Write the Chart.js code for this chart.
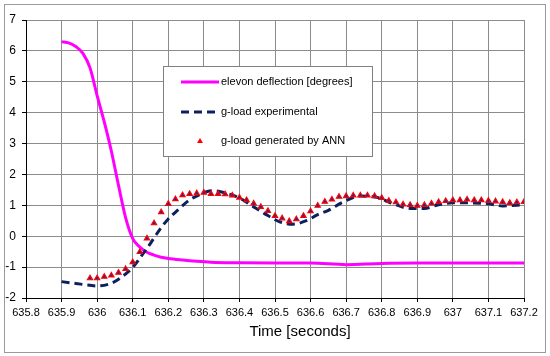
<!DOCTYPE html>
<html>
<head>
<meta charset="utf-8">
<script src="https://cdn.jsdelivr.net/npm/chart.js@4/dist/chart.umd.min.js"></script>
<style>
  html, body { margin: 0; padding: 0; background: #fff; }
  #wrap { width: 550px; height: 356px; }
</style>
</head>
<body>
<div id="wrap"><canvas id="myChart" width="550" height="356"></canvas></div>
<script>
// elevon deflection [degrees]
var elevonT = [635.90, 635.92, 635.94, 635.96, 635.98, 636.00, 636.02, 636.04, 636.06, 636.08,
  636.10, 636.12, 636.14, 636.16, 636.18, 636.20, 636.24, 636.28, 636.32, 636.40,
  636.50, 636.60, 636.70, 636.80, 636.90, 637.00, 637.20];
var elevonV = [6.30, 6.26, 6.14, 5.92, 5.45, 4.55, 3.70, 2.75, 1.65, 0.60,
  -0.08, -0.35, -0.52, -0.61, -0.68, -0.72, -0.77, -0.81, -0.84, -0.86,
  -0.87, -0.87, -0.92, -0.88, -0.87, -0.87, -0.87];

// g-load experimental
var expT = [635.90, 635.94, 635.98, 636.00, 636.04, 636.07, 636.10, 636.13, 636.15, 636.17,
  636.20, 636.23, 636.26, 636.28, 636.31, 636.33, 636.36, 636.40, 636.44, 636.48,
  636.51, 636.55, 636.59, 636.62, 636.65, 636.69, 636.74, 636.79, 636.83, 636.88,
  636.92, 636.96, 637.00, 637.05, 637.10, 637.14, 637.20];
var expV = [-1.47, -1.53, -1.59, -1.61, -1.52, -1.31, -1.01, -0.55, -0.23, 0.12,
  0.56, 0.88, 1.18, 1.30, 1.45, 1.47, 1.40, 1.24, 0.95, 0.67,
  0.48, 0.39, 0.51, 0.70, 0.84, 1.10, 1.30, 1.25, 1.06, 0.90,
  0.90, 1.02, 1.08, 1.08, 1.05, 0.98, 1.02];

// g-load generated by ANN
var annT = [635.98, 636.00, 636.02, 636.04, 636.06, 636.08, 636.10, 636.12, 636.14, 636.16,
  636.18, 636.20, 636.22, 636.24, 636.26, 636.28, 636.30, 636.32, 636.34, 636.36,
  636.38, 636.40, 636.42, 636.44, 636.46, 636.48, 636.50, 636.52, 636.54, 636.56,
  636.58, 636.60, 636.62, 636.64, 636.66, 636.68, 636.70, 636.72, 636.74, 636.76,
  636.78, 636.80, 636.82, 636.84, 636.86, 636.88, 636.90, 636.92, 636.94, 636.96,
  636.98, 637.00, 637.02, 637.04, 637.06, 637.08, 637.10, 637.12, 637.14, 637.16,
  637.18, 637.20];
var annV = [-1.36, -1.36, -1.31, -1.27, -1.18, -1.06, -0.84, -0.51, -0.07, 0.42,
  0.78, 1.05, 1.20, 1.33, 1.37, 1.39, 1.41, 1.37, 1.37, 1.36,
  1.32, 1.25, 1.17, 1.06, 0.95, 0.82, 0.66, 0.58, 0.49, 0.55,
  0.66, 0.81, 0.99, 1.12, 1.19, 1.28, 1.30, 1.32, 1.32, 1.32,
  1.30, 1.24, 1.15, 1.10, 1.03, 1.01, 0.99, 1.01, 1.06, 1.11,
  1.14, 1.17, 1.17, 1.19, 1.17, 1.17, 1.15, 1.13, 1.11, 1.08,
  1.10, 1.11];

var xTicks = [635.8, 635.9, 636, 636.1, 636.2, 636.3, 636.4, 636.5, 636.6, 636.7, 636.8, 636.9, 637, 637.1, 637.2];
var yTicks = [-2, -1, 0, 1, 2, 3, 4, 5, 6, 7];
var xTitle = 'Time [seconds]';

function pts(t, v) {
  return t.map(function(x, i){ return {x: x, y: v[i]}; });
}

var FONT = '"Liberation Sans", Arial, sans-serif';

// 枠・凡例・軸タイトルを描く
var decor = {
  id: 'decor',
  beforeDraw: function(chart) {
    var c = chart.ctx;
    c.save();
    c.fillStyle = '#fff';
    c.fillRect(0, 0, chart.width, chart.height);
    c.strokeStyle = '#9a9a9a';
    c.lineWidth = 1;
    c.strokeRect(4.5, 4.5, 541, 348);
    c.restore();
  },
  afterDraw: function(chart) {
    var c = chart.ctx;
    var ds = chart.data.datasets;
    c.save();
    // legend box
    c.fillStyle = '#fff';
    c.fillRect(163, 66, 209, 90);
    c.strokeStyle = '#808080';
    c.lineWidth = 1;
    c.strokeRect(163.5, 66.5, 209, 90);
    c.font = '11px ' + FONT;
    c.textBaseline = 'middle';
    c.fillStyle = '#000';
    var rows = [82, 112, 141];
    for (var i = 0; i < ds.length; i++) {
      var y = rows[i];
      if (ds[i].showLine) {
        c.strokeStyle = ds[i].borderColor;
        c.lineWidth = ds[i].borderWidth;
        c.setLineDash(ds[i].borderDash || []);
        c.beginPath();
        c.moveTo(181, y);
        c.lineTo(219, y);
        c.stroke();
        c.setLineDash([]);
      } else {
        c.fillStyle = ds[i].pointBorderColor;
        c.beginPath();
        c.moveTo(200, y - 3);
        c.lineTo(203, y + 2);
        c.lineTo(197, y + 2);
        c.closePath();
        c.fill();
      }
      c.fillStyle = '#000';
      c.fillText(ds[i].label, 221, y);
    }
    // x axis title
    c.font = '15px ' + FONT;
    c.textAlign = 'center';
    c.textBaseline = 'middle';
    c.fillText(xTitle, 300, 332);
    c.restore();
  }
};

var ctx = document.getElementById('myChart').getContext('2d');
var chart = new Chart(ctx, {
  type: 'scatter',
  data: {
    datasets: [{
      label: 'elevon deflection [degrees]',
      data: pts(elevonT, elevonV),
      showLine: true,
      borderColor: '#ff00ff',
      borderWidth: 3,
      pointRadius: 0,
      cubicInterpolationMode: 'monotone',
      order: 2
    }, {
      label: 'g-load experimental',
      data: pts(expT, expV),
      showLine: true,
      borderColor: '#0d1f5c',
      borderWidth: 3,
      borderDash: [8, 5],
      pointRadius: 0,
      cubicInterpolationMode: 'monotone',
      order: 1
    }, {
      label: 'g-load generated by ANN',
      data: pts(annT, annV),
      showLine: false,
      pointStyle: 'triangle',
      pointRadius: 3,
      pointBackgroundColor: '#2b2a8a',
      pointBorderColor: '#ff0000',
      pointBorderWidth: 1.2,
      order: 0
    }]
  },
  options: {
    responsive: false,
    animation: false,
    layout: { padding: { top: 20, right: 26, left: 0, bottom: 0 } },
    plugins: {
      legend: { display: false },
      tooltip: { enabled: false }
    },
    scales: {
      x: {
        type: 'linear',
        min: 635.8,
        max: 637.2,
        afterBuildTicks: function(s){ s.ticks = xTicks.map(function(v){ return {value: v}; }); },
        afterFit: function(s){ s.height = 58; },
        grid: { color: '#8c8c8c', tickColor: '#000', tickLength: 4, lineWidth: 1 },
        border: { color: '#000', width: 1 },
        ticks: {
          color: '#000',
          font: { family: FONT, size: 11 },
          padding: 4,
          maxRotation: 0,
          autoSkip: false,
          callback: function(v){ return String(Math.round(v * 10) / 10); }
        }
      },
      y: {
        min: -2,
        max: 7,
        afterBuildTicks: function(s){ s.ticks = yTicks.map(function(v){ return {value: v}; }); },
        afterFit: function(s){ s.width = 26; },
        grid: { color: '#8c8c8c', tickColor: '#000', tickLength: 4, lineWidth: 1 },
        border: { color: '#000', width: 1 },
        ticks: {
          color: '#000',
          font: { family: FONT, size: 12 },
          padding: 6,
          autoSkip: false
        }
      }
    }
  },
  plugins: [decor]
});
</script>
</body>
</html>
